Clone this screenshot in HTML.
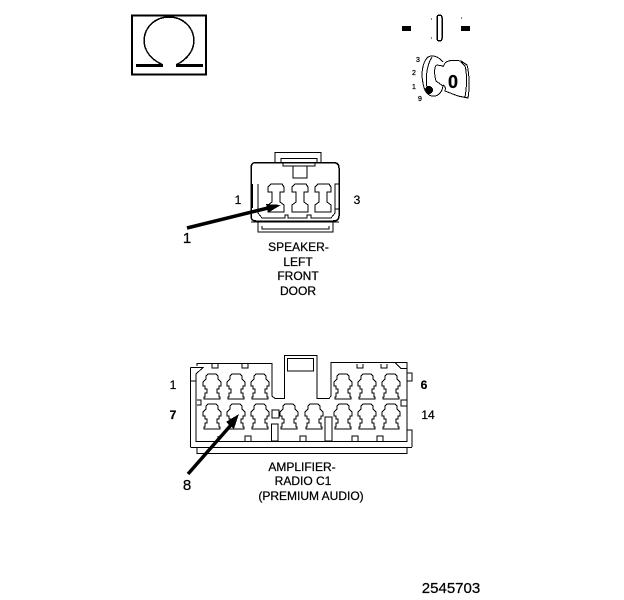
<!DOCTYPE html>
<html><head><meta charset="utf-8"><style>
html,body{margin:0;padding:0;background:#fff;width:624px;height:600px;overflow:hidden}
svg{display:block}
text{font-family:"Liberation Sans",sans-serif;fill:#000;stroke:#000;stroke-width:.25}
</style></head><body>
<svg width="624" height="600" viewBox="0 0 624 600" xmlns="http://www.w3.org/2000/svg" shape-rendering="crispEdges">
<defs>
<path id="p" d="M-4 0H4L6 2V5L9 8V12H7V15H5V19H7V23H8V25H-8V23H-7V19H-5V15H-7V12H-9V8L-6 5V2Z" fill="none" stroke="#000" stroke-width="1"/>
<path id="s" d="M-5 0H6L8 3V8H4V18L8 21V28H-8V21L-4 18V8H-8V3Z" fill="none" stroke="#000" stroke-width="1"/>
</defs>

<!-- Omega box -->
<rect x="132" y="15.500" width="74" height="59" fill="none" stroke="#000" stroke-width="2"/>
<path d="M163 65C150 59 144 50 144 40C145 26 156 17 169 17C182 17 193 26 194 40C194 50 188 59 176 65" fill="none" stroke="#000" stroke-width="1.500"/>
<path d="M136 65.500H163M176 65.500H203" stroke="#000" stroke-width="3" fill="none"/>

<!-- Key switch -->
<rect x="402" y="26" width="9" height="5" fill="#000"/>
<rect x="461" y="26" width="9" height="5" fill="#000"/>
<rect x="437" y="15" width="5" height="26" rx="2.500" fill="none" stroke="#000" stroke-width="1.500"/>
<path d="M431 19h1M431 38h1M461 18h1" stroke="#000"/>
<path d="M443 62C438 56 431 54 427 58C422 64 421 75 423 83C424 90 427 95 432 96C437 97 442 93 443 86L436 81C434 74 434 66 437 65L443 66" fill="none" stroke="#000"/>
<path d="M432 57C426 66 425 82 428 92" fill="none" stroke="#000"/>
<path d="M445 63C448 60 455 60 461 61L467 65C469 72 470 87 468 98L458 96L445 91C446 88 445 86 443 85M445 63L443 67" fill="none" stroke="#000"/>
<path d="M461 62L465 66C467 72 467 87 465 97" fill="none" stroke="#000"/>
<circle cx="429" cy="90" r="4" fill="#000"/>
<text x="453" y="88" font-size="18" font-weight="bold" text-anchor="middle">0</text>
<text x="418" y="62" font-size="7" text-anchor="middle">3</text>
<text x="414" y="75" font-size="7" text-anchor="middle">2</text>
<text x="414" y="89" font-size="7" text-anchor="middle">1</text>
<text x="420" y="101" font-size="7" text-anchor="middle">9</text>

<!-- Speaker connector -->
<g fill="none" stroke="#000" stroke-width="1">
<path d="M275 162V152.500H321V162" />
<path d="M281 162V158.500H317V162M283 162V166H315V162M293 166V178H307V166"/>
<path d="M256 162.500H333Q339 162.500 339 168V216Q339 221 333 221H256Q251 221 251 216V168Q251 162.500 256 162.500Z" stroke-width="1.500"/>
<path d="M258 184V213L262 218H285V215H288V218H307V215H311V218H331L335 213V184H339"/>
<path d="M335 209H339"/>
<path d="M251 222H339M258 222V232H333V222M262 226V229H329V226"/>
<path d="M252 184V208" stroke-width="2"/>
</g>
<use href="#s" x="276" y="184"/>
<use href="#s" x="300" y="184"/>
<use href="#s" x="323" y="184"/>
<path d="M187 228L268 208" stroke="#000" stroke-width="3.500" shape-rendering="auto"/>
<path d="M281 205L266 204L268.500 212.500Z" fill="#000"/>
<text x="238" y="204" font-size="12" text-anchor="middle">1</text>
<text x="357" y="204" font-size="12" text-anchor="middle">3</text>
<text x="187" y="243" font-size="15" text-anchor="middle">1</text>
<g font-size="12" text-anchor="middle">
<text x="298.500" y="251">SPEAKER-</text>
<text x="298" y="266">LEFT</text>
<text x="298" y="280">FRONT</text>
<text x="298" y="295">DOOR</text>
</g>

<!-- Amplifier connector -->
<g fill="none" stroke="#000" stroke-width="1">
<path d="M197 366V363.500H272V396L275 398.500H284.500V355.500H317V398.500H329L331 396V362.500H407V442"/>
<path d="M287.500 358.500H313.500V371H287.500Z"/>
<path d="M190.500 367.500H203L196 374V442M190.500 367.500V447"/>
<path d="M190.500 381H196M197 400H201V405H197"/>
<path d="M407 368.500H401L395 362.500M407 373H412V381H407M407 400H401V406H407M407 430H412V447"/>
<path d="M196 441.500H407M190.500 447.500H412M407 447.500V453.500H197V447.500"/>
<path d="M212 364V368H218V364M242 364V368H248V364M357 364V368H363V364M381 364V368H387V364"/>
<path d="M245 441V436H251V441M218 441V436M352 441V436H358V441M377 441V436H383V441M300 441V436H306V441"/>
<path d="M272 410H279V418H272ZM271.500 424H278V441H271.500ZM325 417H332V441H325Z"/>
</g>
<use href="#p" x="212" y="374"/>
<use href="#p" x="236" y="374"/>
<use href="#p" x="260" y="374"/>
<use href="#p" x="343" y="374"/>
<use href="#p" x="367" y="374"/>
<use href="#p" x="391" y="374"/>
<use href="#p" x="212" y="404"/>
<use href="#p" x="236" y="404"/>
<use href="#p" x="260" y="404"/>
<use href="#p" x="289" y="404"/>
<use href="#p" x="314" y="404"/>
<use href="#p" x="343" y="404"/>
<use href="#p" x="367" y="404"/>
<use href="#p" x="391" y="404"/>
<path d="M188 474L231 425" stroke="#000" stroke-width="3.500" shape-rendering="auto"/>
<path d="M239 414L226 422L234 429Z" fill="#000"/>
<text x="173" y="389" font-size="12" text-anchor="middle">1</text>
<text x="173" y="419" font-size="12" font-weight="bold" text-anchor="middle">7</text>
<text x="424" y="389" font-size="12" font-weight="bold" text-anchor="middle">6</text>
<text x="428" y="419" font-size="12" text-anchor="middle">14</text>
<text x="187" y="490" font-size="15" text-anchor="middle">8</text>
<g font-size="12" text-anchor="middle">
<text x="302" y="471">AMPLIFIER-</text>
<text x="303" y="485">RADIO C1</text>
<text x="311" y="500">(PREMIUM AUDIO)</text>
</g>
<text x="451" y="593" font-size="15" text-anchor="middle">2545703</text>
</svg>
</body></html>
